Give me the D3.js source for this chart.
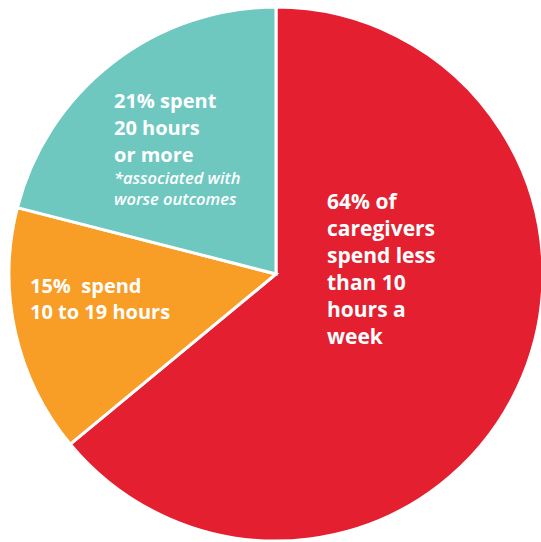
<!DOCTYPE html>
<html>
<head>
<meta charset="utf-8">
<script src="https://cdn.jsdelivr.net/npm/d3@7.9.0/dist/d3.min.js"></script>
<style>
  html, body { margin: 0; padding: 0; background: #fff; }
  svg { display: block; }
  .lbl { fill: #fff; font-family: "Open Sans", sans-serif; font-weight: 700; white-space: pre; }
  .note { font-style: italic; font-weight: 600; }
</style>
</head>
<body>
<div id="chart"></div>
<script>
// Data
const categories = ["Less than 10 hours", "10 to 19 hours", "20 hours or more"];
const shares = [64, 15, 21];
const colours = ["#E31F30", "#F89D25", "#6EC8BF"];
const labelLines = [
  ["64% of", "caregivers", "spend less", "than 10", "hours a", "week"],
  ["15%  spend", "10 to 19 hours"],
  ["21% spent", "20 hours", "or more"]
];
const noteLines = [[], [], ["*associated with", "worse outcomes"]];

// canvas
const WIDTH = 541, HEIGHT = 542;
const cx = 276, cy = 274, radius = 267;

const svg = d3.select("#chart").append("svg")
  .attr("width", WIDTH)
  .attr("height", HEIGHT);

const g = svg.append("g")
  .attr("transform", `translate(${cx}, ${cy})`);

// pie starts at 12 o'clock, clockwise, in data order
const pie = d3.pie().sort(null).value(d => d);
const arc = d3.arc().innerRadius(0).outerRadius(radius);
const arcs = pie(shares);

g.selectAll("path.slice")
  .data(arcs)
  .join("path")
  .attr("class", "slice")
  .attr("d", arc)
  .attr("fill", (d, i) => colours[i])
  .attr("stroke", "#fff")
  .attr("stroke-width", 3)
  .attr("stroke-linejoin", "miter");

// label anchors (left x, first baseline) relative to the centre
const labelPos = [
  { x: 51, y: -65, size: 21, step: 27 },
  { x: -246, y: 19, size: 20, step: 26 },
  { x: -162, y: -166, size: 20, step: 27 }
];

arcs.forEach((a, i) => {
  const p = labelPos[i];
  const t = g.append("text")
    .attr("class", "lbl")
    .attr("x", p.x)
    .attr("y", p.y)
    .style("font-size", p.size + "px");
  labelLines[i].forEach((line, k) => {
    t.append("tspan")
      .attr("x", p.x)
      .attr("y", p.y + k * p.step)
      .text(line);
  });
  const base = p.y + (labelLines[i].length - 1) * p.step;
  noteLines[i].forEach((line, k) => {
    t.append("tspan")
      .attr("class", "note")
      .attr("x", p.x)
      .attr("y", base + 22 + k * 21)
      .style("font-size", "16.5px")
      .text(line);
  });
});
</script>
</body>
</html>
